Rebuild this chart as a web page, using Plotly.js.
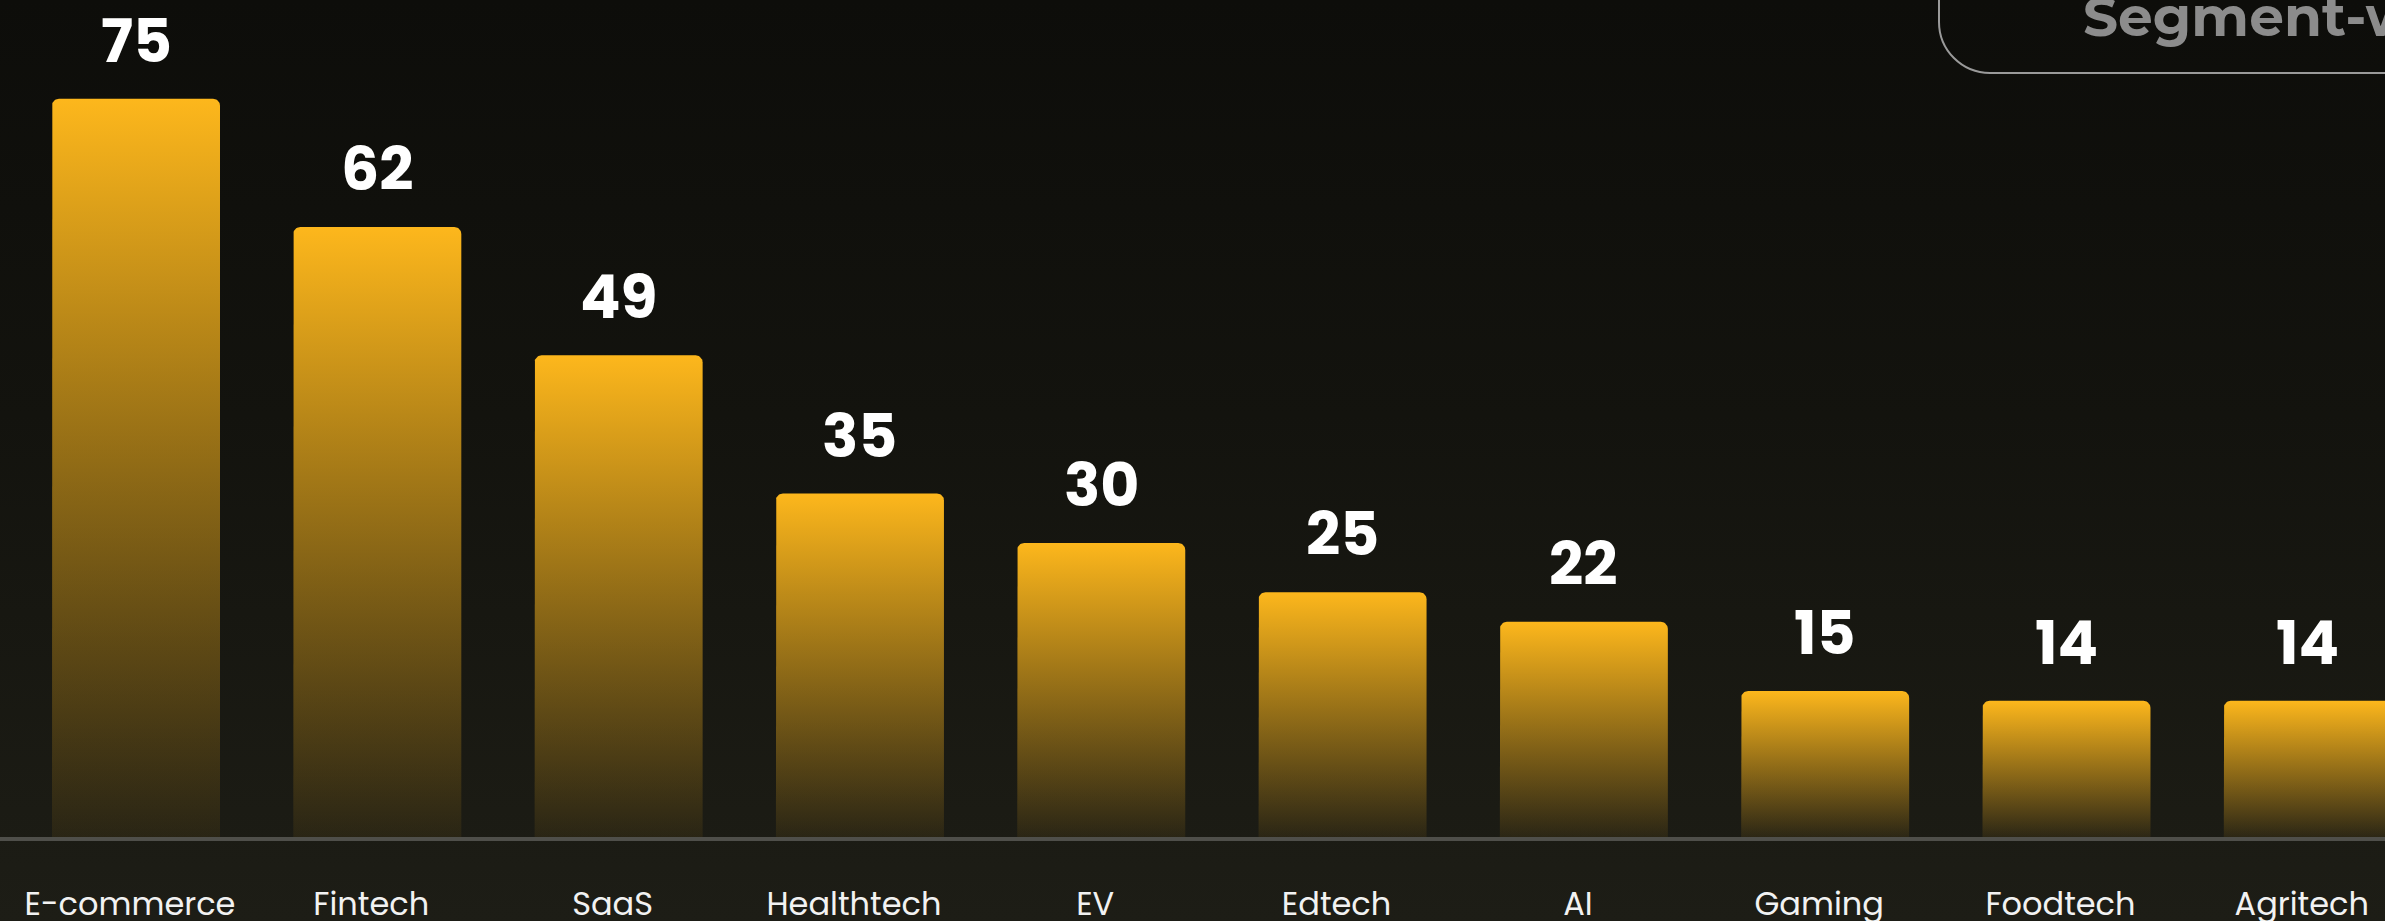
<!DOCTYPE html>
<html><head><meta charset="utf-8">
<script src="https://cdn.plot.ly/plotly-3.0.1.min.js"></script>
<style>
html,body{margin:0;padding:0;overflow:hidden;background:linear-gradient(to bottom,#0d0d0a 0%,#13130e 45%,#1b1b14 88%,#1d1d16 100%);}
#chart{width:2385px;height:921px;}
</style></head><body><div id="chart"></div>
<script>
// ---- data ----
const categories = ['E-commerce','Fintech','SaaS','Healthtech','EV','Edtech','AI','Gaming','Foodtech','Agritech'];
const values = [75, 62, 49, 35, 30, 25, 22, 15, 14, 14];
const headerText = 'Segment-wise';

// ---- layout geometry ----
const W = 2385, H = 921, M = {l:0, r:0, t:0, b:82};
const xRange = [-0.5636, 9.32], yRange = [0, 85];
const pxPerX = (W - M.l - M.r) / (xRange[1] - xRange[0]);
const pxPerY = (H - M.t - M.b) / (yRange[1] - yRange[0]);
const barPx = 168, cornerPx = 7;
const hw = barPx / 2 / pxPerX, rx = cornerPx / pxPerX, ry = cornerPx / pxPerY;

function barOutline(i, v) {
  const xs = [], ys = [];
  const L = i - hw, R = i + hw, N = 10;
  xs.push(L); ys.push(0);
  for (let k = 0; k <= N; k++) { const a = Math.PI - k * (Math.PI / 2) / N; xs.push(L + rx + rx * Math.cos(a)); ys.push(v - ry + ry * Math.sin(a)); }
  for (let k = 0; k <= N; k++) { const a = Math.PI / 2 - k * (Math.PI / 2) / N; xs.push(R - rx + rx * Math.cos(a)); ys.push(v - ry + ry * Math.sin(a)); }
  xs.push(R); ys.push(0);
  xs.push(L); ys.push(0);
  return {xs, ys};
}

const gradient = [[0, 'rgba(253,183,28,0.06)'], [0.5, 'rgba(253,183,28,0.53)'], [1, 'rgba(253,183,28,1)']];
const traces = values.map((v, i) => {
  const o = barOutline(i, v);
  return {type:'scatter', x:o.xs, y:o.ys, mode:'lines', line:{width:0, color:'rgba(0,0,0,0)'},
    fill:'toself', fillgradient:{type:'vertical', colorscale:gradient}, hoverinfo:'skip', showlegend:false};
});

const annotations = values.map((v, i) => ({
  x:i, y:v, xref:'x', yref:'y', text:String(v), showarrow:false, yanchor:'bottom', yshift:14,
  font:{family:'Poppins, Inter, sans-serif', size:60, weight:700, color:'#ffffff'}
}));
annotations.push({
  xref:'paper', yref:'paper', x:2081 / W, y:1 - 17 / (H - M.t - M.b), xanchor:'left', yanchor:'middle',
  text:headerText, showarrow:false,
  font:{family:'Montserrat, "DejaVu Sans", sans-serif', size:55, weight:700, color:'#8c8c8c'}
});

// pill outline (pixel coordinates relative to top-left of plot, y up)
const pl = 1939, pb = -73, pr = 2600, pt = 80, R = 51, K = 0.5523 * R;
const pillPath = `M ${pr},${pb} L ${pl + R},${pb} C ${pl + R - K},${pb} ${pl},${pb + R - K} ${pl},${pb + R} L ${pl},${pt}`;

const layout = {
  width:W, height:H, margin:M,
  paper_bgcolor:'rgba(0,0,0,0)', plot_bgcolor:'rgba(0,0,0,0)',
  showlegend:false,
  xaxis:{range:xRange, tickmode:'array', tickvals:categories.map((c, i) => i), ticktext:categories,
    showgrid:false, zeroline:false, showline:false, ticks:'', ticklabelstandoff:43, ticklabelshift:-6,
    tickfont:{family:'Poppins, "Open Sans", sans-serif', size:32, color:'#f2f2f2'}},
  yaxis:{range:yRange, showgrid:false, zeroline:false, showline:false, showticklabels:false, ticks:''},
  annotations:annotations,
  shapes:[
    {type:'line', xref:'paper', yref:'paper', x0:0, x1:1, y0:0, y1:0, line:{color:'#4f4f4a', width:4}, layer:'above'},
    {type:'path', xref:'paper', yref:'paper', xsizemode:'pixel', ysizemode:'pixel', xanchor:0, yanchor:1,
      path:pillPath, line:{color:'#9a9a9a', width:2}, fillcolor:'rgba(0,0,0,0)'}
  ]
};
Plotly.newPlot('chart', traces, layout, {displayModeBar:false, staticPlot:true});
</script></body></html>
